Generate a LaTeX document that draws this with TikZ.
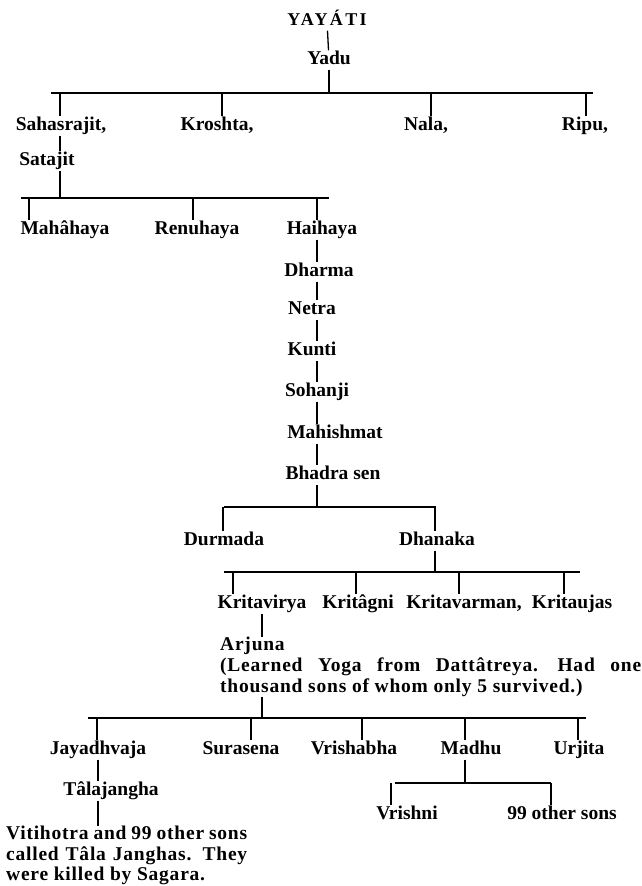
\documentclass[tikz,border=0pt]{standalone}
\usepackage{fontspec}
\setmainfont{Liberation Serif}
\newfontfamily\storyfont[LetterSpace=4]{Liberation Serif}

\tikzset{
  kin/.style={font=\fontsize{19.5}{21}\selectfont\bfseries, inner sep=1pt,
              text height=13pt, text depth=4pt},
  story/.style={font=\storyfont\fontsize{19.5}{20.7}\selectfont\bfseries, inner sep=0pt,
                align=left, anchor=north west},
  tie/.style={line width=1.3pt}
}

\begin{document}
\begin{tikzpicture}[x=1pt, y=-1pt]
  \path[use as bounding box, fill=white] (0,0) rectangle (641,886);

  % the line of Yadu
  \node[kin, font=\fontsize{18}{19}\selectfont\bfseries\addfontfeature{LetterSpace=13}]
    (yayati) at (327,21) {YAYÁTI};
  \node[kin] (yadu) at (329,60) {Yadu};
  \node[kin] (sahas) at (61,126) {Sahasrajit,};
  \node[kin] (kroshta) at (217,126) {Kroshta,};
  \node[kin] (nala) at (426,126) {Nala,};
  \node[kin] (ripu) at (585,126) {Ripu,};
  \node[kin] (satajit) at (47,161) {Satajit};
  \node[kin] (mahahaya) at (65,230) {Mahâhaya};
  \node[kin] (renuhaya) at (197,230) {Renuhaya};
  \node[kin] (haihaya) at (322,230) {Haihaya};
  \node[kin] (dharma) at (319,272) {Dharma};
  \node[kin] (netra) at (312,310) {Netra};
  \node[kin] (kunti) at (312,351) {Kunti};
  \node[kin] (sohanji) at (317,392) {Sohanji};
  \node[kin] (mahishmat) at (335,434) {Mahishmat};
  \node[kin] (bhadrasen) at (333,475) {Bhadra sen};
  \node[kin] (durmada) at (224,541) {Durmada};
  \node[kin] (dhanaka) at (437,541) {Dhanaka};
  \node[kin] (kritavirya) at (262,604) {Kritavirya};
  \node[kin] (kritagni) at (358,604) {Kritâgni};
  \node[kin] (kritavarman) at (464,604) {Kritavarman,};
  \node[kin] (kritaujas) at (572,604) {Kritaujas};
  \node[story] (arjuna) at (220,637) {Arjuna\\
    \makebox[421pt][s]{(Learned Yoga from Dattâtreya.\quad Had one}\\
    thousand sons of whom only 5 survived.)};
  \node[kin] (jayadhvaja) at (98,750) {Jayadhvaja};
  \node[kin] (surasena) at (241,750) {Surasena};
  \node[kin] (vrishabha) at (354,750) {Vrishabha};
  \node[kin] (madhu) at (471,750) {Madhu};
  \node[kin] (urjita) at (579,750) {Urjita};
  \node[kin] (talajangha) at (111,791) {Tâlajangha};
  \node[story, font=\storyfont\fontsize{19.5}{20.5}\selectfont\bfseries] (vitihotra) at (6,826)
    {\makebox[241pt][s]{Vitihotra and 99 other sons}\\
    \makebox[241pt][s]{called Tâla Janghas. They}\\
    were killed by Sagara.};
  \node[kin] (vrishni) at (407,815) {Vrishni};
  \node[kin] (othersons) at (562,815) {99 other sons};

  \draw[tie] (yayati) -- (yadu);

  % sons of Yadu
  \coordinate (bar1w) at (51,93);
  \coordinate (bar1e) at (593,93);
  \draw[tie] (bar1w) -- (bar1e);
  \draw[tie] (yadu) -- (yadu |- bar1w);
  \foreach \x/\n in {60/sahas, 222/kroshta, 431/nala, 586/ripu} {
    \coordinate (\n-up) at (\x,93);
    \draw[tie] (\n-up) -- (\n-up |- \n.north);
  }
  \draw[tie] (sahas.south -| sahas-up) -- (satajit.north -| sahas-up);

  % sons of Satajit
  \coordinate (bar2w) at (21,198);
  \coordinate (bar2e) at (329,198);
  \draw[tie] (bar2w) -- (bar2e);
  \draw[tie] (satajit.south -| sahas-up) -- (sahas-up |- bar2w);
  \foreach \x/\n in {29/mahahaya, 193/renuhaya, 317/haihaya} {
    \coordinate (\n-up) at (\x,198);
    \draw[tie] (\n-up) -- (\n-up |- \n.north);
  }
  \foreach \a/\b in {haihaya/dharma, dharma/netra, netra/kunti, kunti/sohanji,
                     sohanji/mahishmat, mahishmat/bhadrasen}
    \draw[tie] (\a.south -| haihaya-up) -- (\b.north -| haihaya-up);

  % sons of Bhadra sen
  \coordinate (bar3w) at (224,507);
  \coordinate (bar3e) at (436,507);
  \draw[tie] (bar3w) -- (bar3e);
  \draw[tie] (bhadrasen.south -| haihaya-up) -- (haihaya-up |- bar3w);
  \foreach \x/\n in {223/durmada, 435/dhanaka} {
    \coordinate (\n-up) at (\x,507);
    \draw[tie] (\n-up) -- (\n-up |- \n.north);
  }

  % sons of Dhanaka
  \coordinate (bar4w) at (224,572);
  \coordinate (bar4e) at (580,572);
  \draw[tie] (bar4w) -- (bar4e);
  \draw[tie] (dhanaka.south -| dhanaka-up) -- (dhanaka-up |- bar4w);
  \foreach \x/\n in {233/kritavirya, 356/kritagni, 459/kritavarman, 564/kritaujas} {
    \coordinate (\n-up) at (\x,572);
    \draw[tie] (\n-up) -- (\n-up |- \n.north);
  }
  \draw[tie] (kritavirya.south) -- (kritavirya.south |- arjuna.north);

  % sons of Arjuna
  \coordinate (bar5w) at (88,718);
  \coordinate (bar5e) at (586,718);
  \draw[tie] (bar5w) -- (bar5e);
  \draw[tie] (kritavirya.south |- arjuna.south) -- (kritavirya.south |- bar5w);
  \foreach \x/\n in {97/jayadhvaja, 251/surasena, 362/vrishabha, 465/madhu, 578/urjita} {
    \coordinate (\n-up) at (\x,718);
    \draw[tie] (\n-up) -- (\n-up |- \n.north);
  }
  \draw[tie] (jayadhvaja.south) -- (jayadhvaja.south |- talajangha.north);
  \draw[tie] (jayadhvaja.south |- talajangha.south) -- (jayadhvaja.south |- vitihotra.north);

  % sons of Madhu
  \coordinate (bar6w) at (395,783);
  \coordinate (bar6e) at (551,783);
  \draw[tie] (bar6w) -- (bar6e);
  \draw[tie] (madhu.south -| madhu-up) -- (madhu-up |- bar6w);
  \foreach \x/\n in {391/vrishni, 551/othersons} {
    \coordinate (\n-up) at (\x,783);
    \draw[tie] (\n-up) -- (\n-up |- \n.north);
  }
\end{tikzpicture}
\end{document}
